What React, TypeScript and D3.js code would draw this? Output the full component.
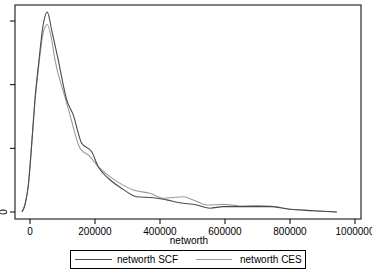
import { useEffect, useRef } from 'react';
import * as d3 from 'd3';

// density in units of 1e-6
const scfX = [-25000, -15000, -5000, 5000, 15000, 28000, 40000, 53000, 68000, 87000, 113000, 133000, 159000, 190000, 210000, 241000, 287000, 328000, 379000, 420000, 461000, 513000, 554000, 595000, 646000, 700000, 738000, 800000, 872000, 944000];
const scfY = [0, 0.25, 0.85, 2.1, 3.5, 4.8, 5.85, 6.28, 5.65, 4.77, 3.52, 3.05, 2.16, 1.89, 1.42, 1.06, 0.71, 0.48, 0.45, 0.38, 0.29, 0.22, 0.12, 0.17, 0.17, 0.17, 0.17, 0.085, 0.04, 0.0];

const cesX = [-25000, -15000, -5000, 5000, 15000, 28000, 40000, 53000, 66000, 77000, 108000, 123000, 154000, 185000, 205000, 246000, 277000, 318000, 369000, 410000, 472000, 502000, 544000, 595000, 646000, 700000, 738000, 800000, 872000, 944000];
const cesY = [0, 0.25, 0.85, 2.1, 3.45, 4.7, 5.6, 5.89, 5.45, 4.77, 3.6, 3.05, 2.0, 1.74, 1.48, 1.11, 0.9, 0.69, 0.59, 0.43, 0.48, 0.38, 0.22, 0.24, 0.19, 0.2, 0.19, 0.085, 0.04, 0.0];

const xTicks = [0, 200000, 400000, 600000, 800000, 1000000];
const yTicks = [0, 2, 4, 6];

const seriesNames = ['networth SCF', 'networth CES'];
const seriesColors = ['#4a4a4a', '#9a9a9a'];

function App() {
  const svgRef = useRef(null);

  useEffect(() => {
    const width = 372;
    const height = 270;
    const svg = d3.select(svgRef.current);
    svg.selectAll('*').remove();

    const font = "'Liberation Sans', Arial, sans-serif";

    // plot frame
    const frame = { left: 15, right: 361, top: 5, bottom: 219 };
    const x = d3.scaleLinear().domain([0, 1000000]).range([30, 355]);
    const y = d3.scaleLinear().domain([0, 6]).range([212, 21]);

    svg.append('rect')
      .attr('width', width)
      .attr('height', height)
      .attr('fill', '#fff');

    svg.append('rect')
      .attr('x', frame.left)
      .attr('y', frame.top)
      .attr('width', frame.right - frame.left)
      .attr('height', frame.bottom - frame.top)
      .attr('fill', 'none')
      .attr('stroke', '#000')
      .attr('stroke-width', 1);

    // y ticks
    yTicks.forEach(t => {
      svg.append('line')
        .attr('x1', frame.left - 5).attr('x2', frame.left)
        .attr('y1', y(t)).attr('y2', y(t))
        .attr('stroke', '#000');
    });
    svg.append('text')
      .attr('transform', `translate(7,${y(0)}) rotate(-90)`)
      .attr('text-anchor', 'middle')
      .attr('font-family', font)
      .attr('font-size', 10)
      .text('0');

    // x ticks
    xTicks.forEach(t => {
      svg.append('line')
        .attr('x1', x(t)).attr('x2', x(t))
        .attr('y1', frame.bottom).attr('y2', frame.bottom + 5)
        .attr('stroke', '#000');
      svg.append('text')
        .attr('x', x(t))
        .attr('y', 235)
        .attr('text-anchor', 'middle')
        .attr('font-family', font)
        .attr('font-size', 10)
        .text(d3.format('d')(t));
    });

    svg.append('text')
      .attr('x', (frame.left + frame.right) / 2 + 1)
      .attr('y', 244)
      .attr('text-anchor', 'middle')
      .attr('font-family', font)
      .attr('font-size', 10)
      .text('networth');

    const line = d3.line()
      .x(d => x(d[0]))
      .y(d => y(d[1]))
      .curve(d3.curveMonotoneX);

    const series = [
      scfX.map((v, i) => [v, scfY[i]]),
      cesX.map((v, i) => [v, cesY[i]])
    ];

    // draw CES first so SCF sits on top
    [1, 0].forEach(i => {
      svg.append('path')
        .attr('d', line(series[i]))
        .attr('fill', 'none')
        .attr('stroke', seriesColors[i])
        .attr('stroke-width', 1.1)
        .attr('stroke-linejoin', 'round');
    });

    // legend
    svg.append('rect')
      .attr('x', 70.5).attr('y', 250.5)
      .attr('width', 235).attr('height', 18)
      .attr('fill', '#fff')
      .attr('stroke', '#000');

    const legendItems = [
      { x1: 75, x2: 112, tx: 117 },
      { x1: 196, x2: 232, tx: 240 }
    ];
    legendItems.forEach((it, i) => {
      svg.append('line')
        .attr('x1', it.x1).attr('x2', it.x2)
        .attr('y1', 259.5).attr('y2', 259.5)
        .attr('stroke', seriesColors[i])
        .attr('stroke-width', 1.1);
      svg.append('text')
        .attr('x', it.tx)
        .attr('y', 263)
        .attr('font-family', font)
        .attr('font-size', 10)
        .text(seriesNames[i]);
    });
  }, []);

  return (
    <svg
      ref={svgRef}
      width={372}
      height={270}
      style={{ position: 'absolute', left: 0, top: 0 }}
    />
  );
}

export default App;
